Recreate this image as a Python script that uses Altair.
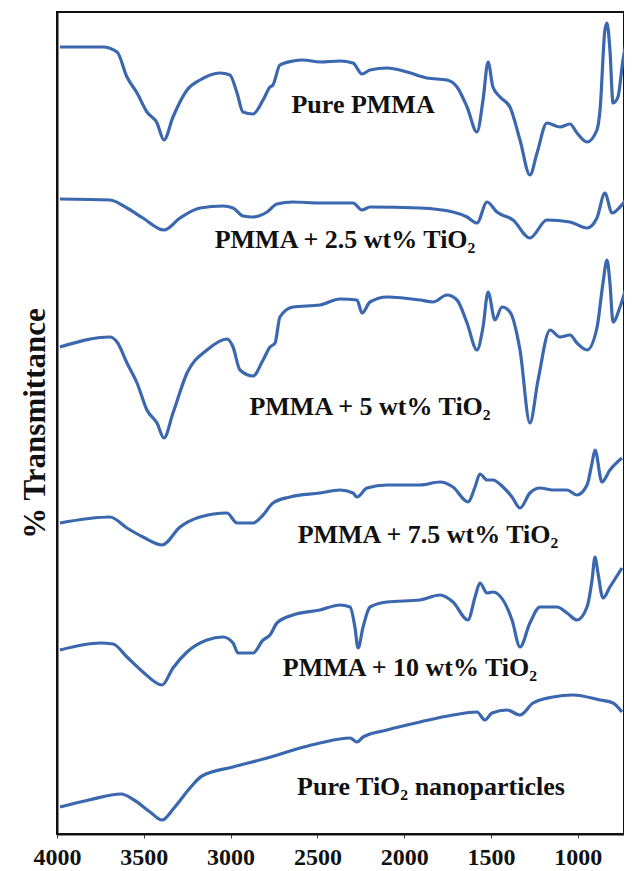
import altair as alt
import pandas as pd

# ---- data (wavenumber cm-1, transmittance in arbitrary offset units) ----
series_names = ["Pure PMMA", "PMMA + 2.5 wt% TiO2", "PMMA + 5 wt% TiO2",
                "PMMA + 7.5 wt% TiO2", "PMMA + 10 wt% TiO2", "Pure TiO2 nanoparticles"]

pmma_wn = [3983, 3735, 3654, 3597, 3539, 3482, 3424, 3384, 3332, 3251, 3176, 3061, 3004, 2963, 2929,
           2871, 2813, 2773, 2756, 2716, 2641, 2583, 2485, 2370, 2295, 2243, 2197, 2099, 1984, 1869,
           1754, 1696, 1638, 1581, 1546, 1517, 1489, 1448, 1391, 1333, 1276, 1235, 1178, 1103, 1045,
           1005, 947, 890, 872, 844, 832, 815, 797, 769, 740, 700]
pmma_t = [787, 787, 782, 757, 741, 722, 711, 694, 717, 744, 754, 761, 759, 741, 722,
          720, 734, 747, 749, 769, 773, 774, 772, 773, 771, 760, 764, 766, 762, 756,
          754, 747, 727, 702, 734, 772, 747, 737, 727, 694, 659, 681, 711, 707, 710,
          701, 692, 704, 724, 804, 811, 784, 731, 737, 774, 807]

t25_wn = [3983, 3695, 3597, 3505, 3384, 3291, 3176, 3044, 2986, 2929, 2871, 2790, 2733, 2641, 2485,
          2295, 2243, 2197, 1909, 1719, 1638, 1581, 1523, 1466, 1373, 1276, 1178, 1045, 947, 890,
          844, 803, 757, 690]
t25_t = [635, 634, 626, 616, 604, 616, 626, 628, 626, 618, 617, 622, 630, 632, 631,
         631, 624, 627, 626, 622, 617, 611, 632, 622, 614, 596, 614, 612, 606, 616,
         641, 621, 627, 642]

t5_wn = [3983, 3695, 3654, 3597, 3539, 3482, 3424, 3384, 3332, 3251, 3136, 3021, 2986, 2946, 2871,
         2813, 2773, 2744, 2716, 2641, 2485, 2370, 2272, 2243, 2197, 2099, 1909, 1834, 1754, 1696,
         1638, 1581, 1546, 1517, 1477, 1437, 1391, 1333, 1276, 1229, 1160, 1103, 1045, 1005, 947,
         890, 855, 832, 815, 797, 757, 690]
t5_t = [487, 497, 492, 471, 451, 424, 411, 396, 421, 461, 484, 495, 487, 464, 458,
        474, 487, 491, 517, 527, 529, 535, 534, 521, 532, 537, 534, 532, 539, 534,
        511, 484, 507, 542, 514, 527, 522, 484, 411, 454, 504, 497, 499, 491, 484,
        506, 551, 574, 551, 512, 527, 567]

t75_wn = [3983, 3695, 3597, 3505, 3395, 3291, 3176, 3021, 2963, 2871, 2813, 2756, 2658, 2485, 2370,
          2295, 2272, 2214, 2099, 1909, 1794, 1719, 1633, 1592, 1564, 1523, 1489, 1431, 1379, 1333,
          1276, 1218, 1143, 1062, 1005, 947, 918, 901, 861, 815, 746]
t75_t = [311, 317, 306, 297, 289, 307, 317, 321, 311, 311, 319, 331, 337, 341, 344,
         341, 337, 346, 349, 349, 352, 347, 332, 347, 360, 354, 354, 347, 337, 326,
         341, 346, 344, 344, 339, 349, 371, 384, 352, 364, 376]

t10_wn = [3983, 3752, 3677, 3597, 3505, 3395, 3332, 3251, 3136, 3044, 2986, 2957, 2871, 2813, 2773,
          2733, 2641, 2485, 2370, 2312, 2284, 2266, 2237, 2197, 2099, 1909, 1794, 1719, 1633, 1592,
          1564, 1523, 1489, 1431, 1379, 1333, 1276, 1218, 1120, 1062, 1005, 947, 918, 901, 884,
          855, 815, 746]
t10_t = [184, 191, 190, 177, 162, 149, 166, 182, 194, 197, 191, 181, 181, 194, 199,
         211, 219, 224, 229, 227, 207, 186, 207, 227, 232, 234, 239, 232, 214, 237,
         251, 241, 242, 234, 214, 187, 211, 227, 227, 221, 214, 227, 254, 277, 261,
         236, 247, 266]

tio2_wn = [3983, 3816, 3631, 3556, 3464, 3395, 3326, 3234, 3165, 2986, 2790, 2600, 2485, 2312, 2272,
           2237, 2099, 1909, 1719, 1581, 1535, 1494, 1408, 1333, 1258, 1143, 1028, 872, 797, 746]
tio2_t = [27, 34, 40, 34, 22, 14, 26, 46, 58, 67, 76, 86, 91, 96, 92,
          97, 104, 112, 119, 122, 114, 121, 124, 119, 131, 137, 139, 134, 131, 122]

label_texts = ["Pure PMMA", "PMMA + 2.5 wt% TiO₂", "PMMA + 5 wt% TiO₂",
               "PMMA + 7.5 wt% TiO₂", "PMMA + 10 wt% TiO₂", "Pure TiO₂ nanoparticles"]
label_wn = [2237, 2341, 2197, 1863, 1967, 1846]
label_t = [729, 594, 427, 299, 166, 47]

x_ticks = [4000, 3500, 3000, 2500, 2000, 1500, 1000]

# ---- build table ----
all_wn = [pmma_wn, t25_wn, t5_wn, t75_wn, t10_wn, tio2_wn]
all_t = [pmma_t, t25_t, t5_t, t75_t, t10_t, tio2_t]
rows = []
for name, wns, ts in zip(series_names, all_wn, all_t):
    for i, (w, t) in enumerate(zip(wns, ts)):
        rows.append({"series": name, "order": i, "wn": w, "T": t})
df = pd.DataFrame(rows)
lab = pd.DataFrame({"text": label_texts, "wn": label_wn, "T": label_t})

FONT = "Liberation Serif"
BLUE = "#3a67ae"

xscale = alt.Scale(domain=[734, 4000], reverse=True, nice=False, zero=False)
yscale = alt.Scale(domain=[0, 822], nice=False, zero=False)

lines = alt.Chart(df).mark_line(color=BLUE, strokeWidth=3.2, clip=True,
                                interpolate="monotone").encode(
    x=alt.X("wn:Q", scale=xscale,
            axis=alt.Axis(values=x_ticks, title=None, grid=False, labelFont=FONT,
                          labelFontSize=24, labelFontWeight="bold", labelColor="#111",
                          labelPadding=7, tickSize=4, tickColor="#444", domainColor="#111",
                          domainWidth=2, labelFlush=False, labelOverlap=False, format="d")),
    y=alt.Y("T:Q", scale=yscale,
            axis=alt.Axis(title="% Transmittance", labels=False, ticks=False, grid=False,
                          titleFont=FONT, titleFontSize=31, titleFontWeight="bold",
                          titleColor="#111", titlePadding=6, domainColor="#111", domainWidth=2)),
    detail="series:N",
    order="order:Q",
)

texts = alt.Chart(lab).mark_text(font=FONT, fontSize=26, fontWeight="bold",
                                 color="#111", align="center", baseline="middle").encode(
    x=alt.X("wn:Q", scale=xscale),
    y=alt.Y("T:Q", scale=yscale),
    text="text:N",
)

chart = alt.layer(lines, texts).properties(
    width=567, height=822,
    autosize=alt.AutoSizeParams(type="none"),
    padding={"left": 49, "top": 4, "right": 0, "bottom": 37},
).configure_view(stroke="#111", strokeWidth=2)

chart.save("out.html", embed_options={"renderer": "svg", "actions": False})
